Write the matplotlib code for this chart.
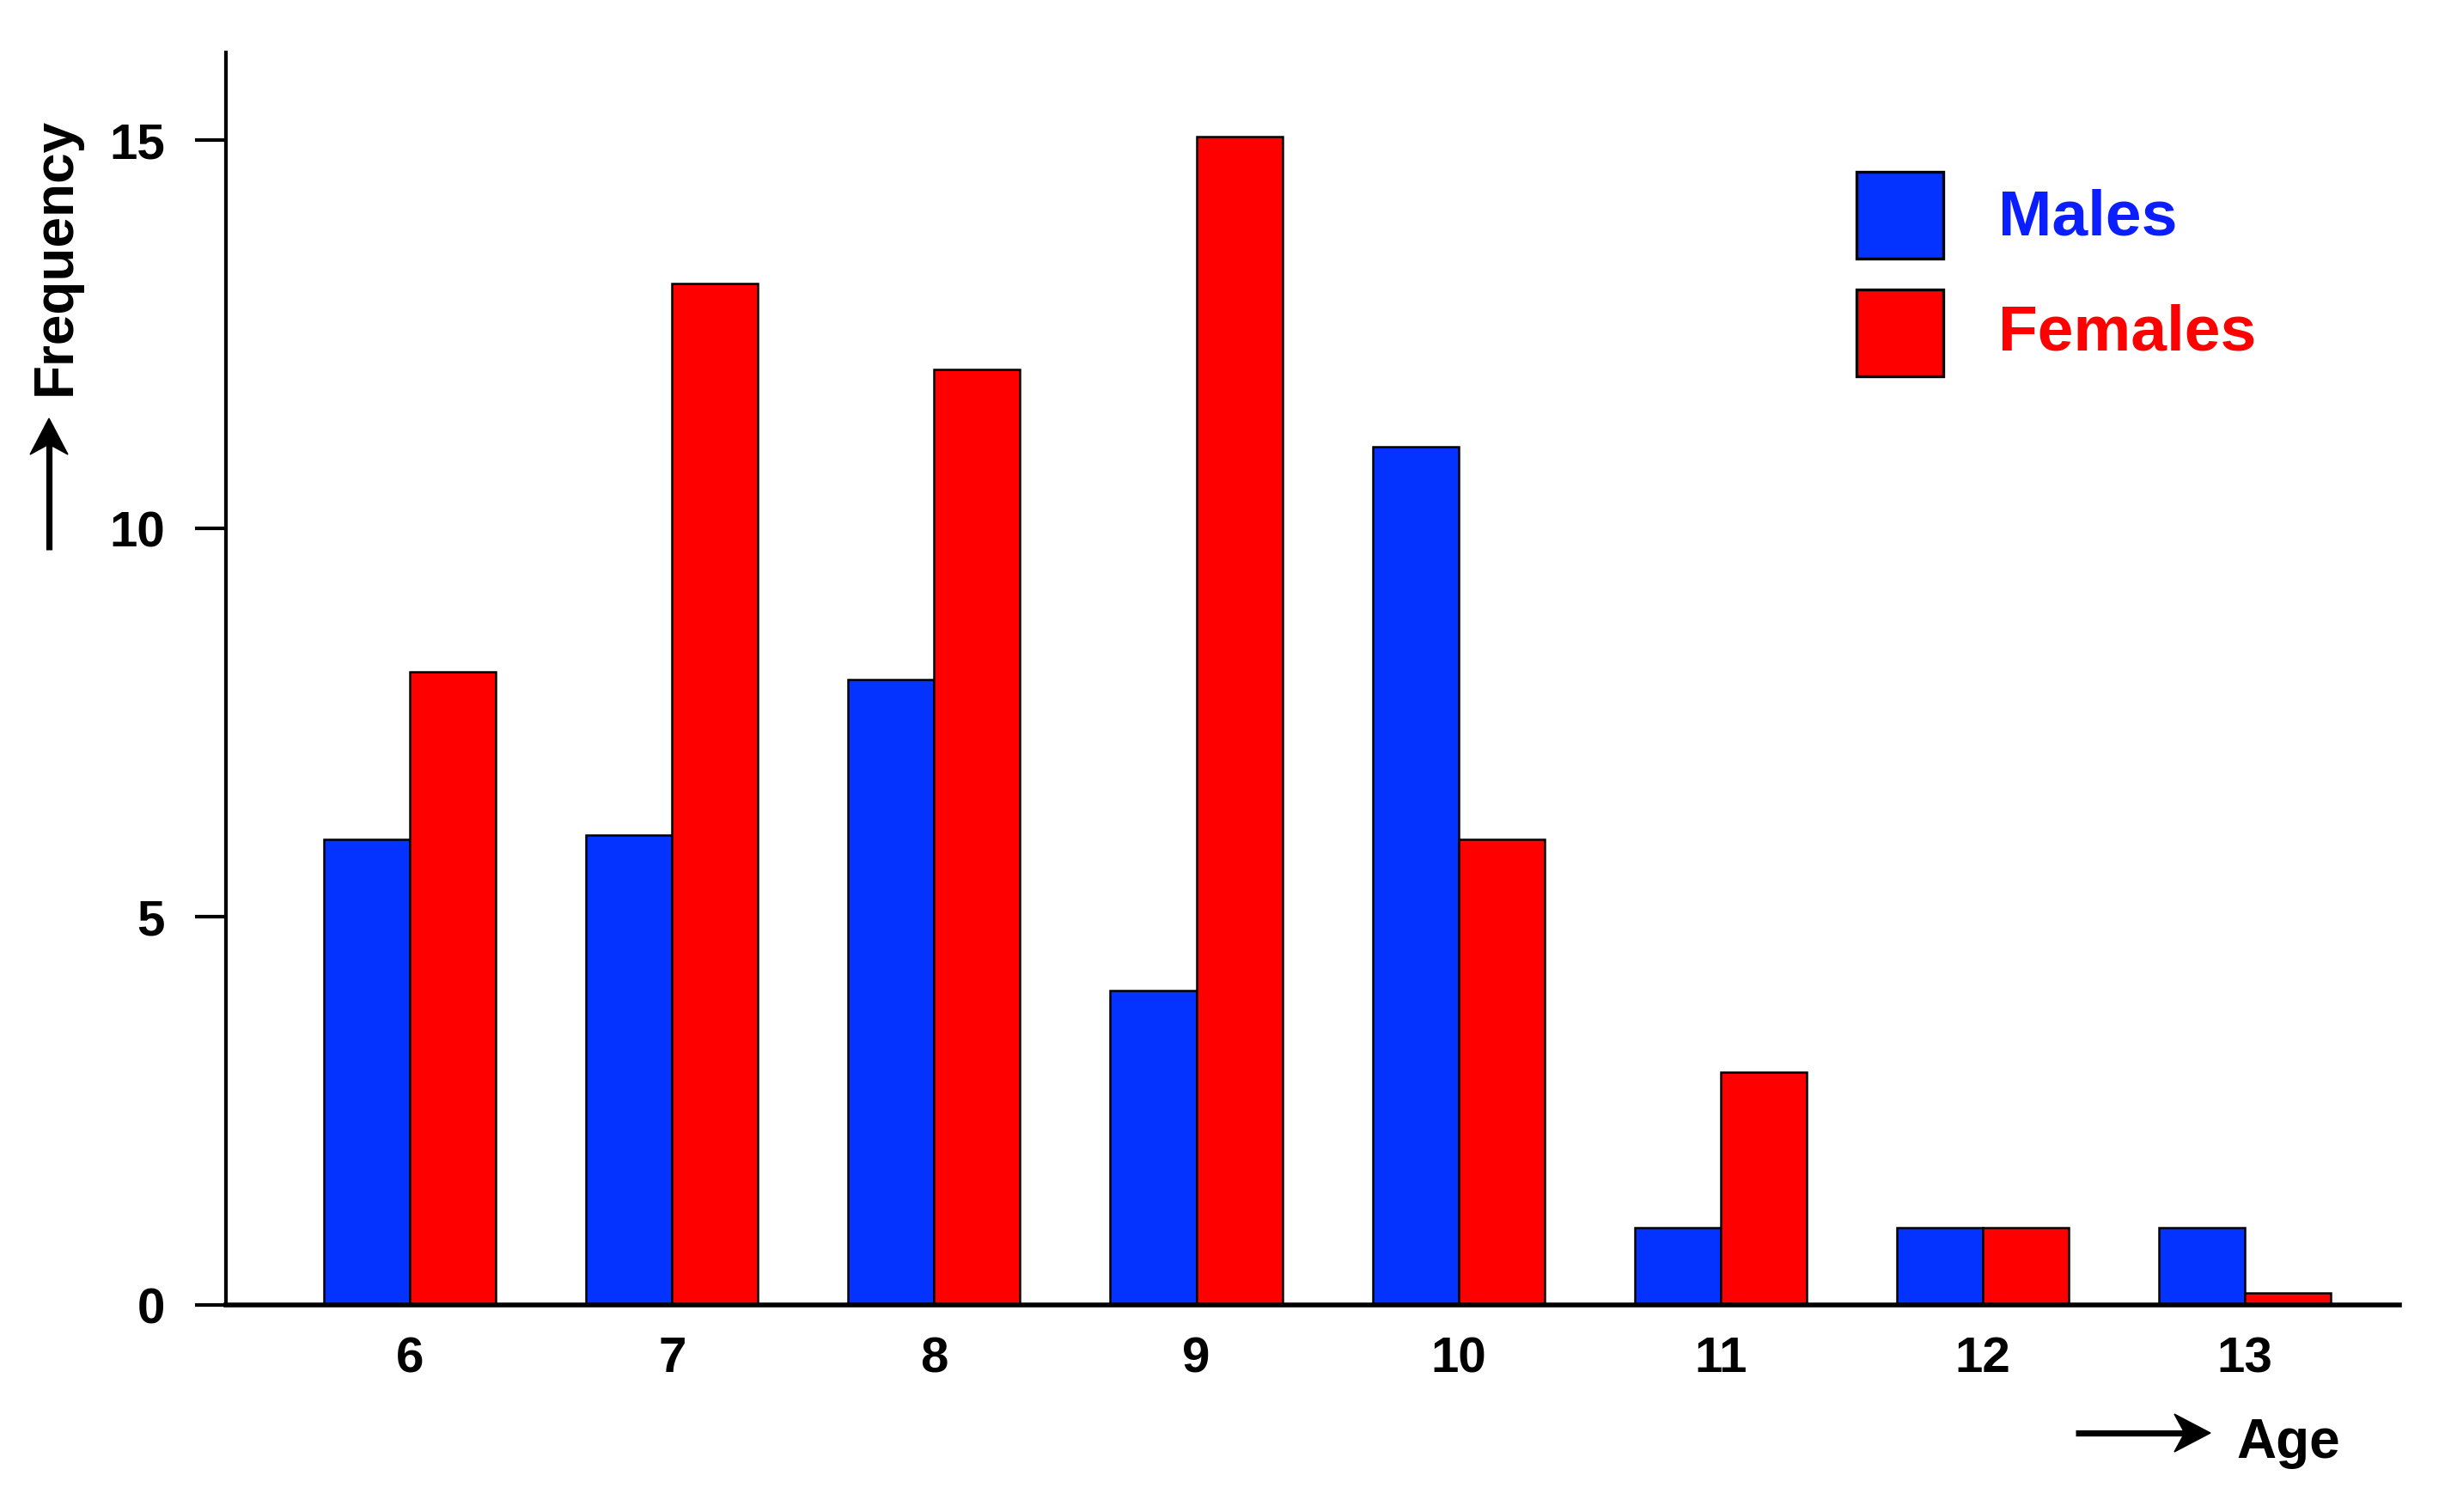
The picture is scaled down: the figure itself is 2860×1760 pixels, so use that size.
import numpy as np
import matplotlib
matplotlib.use('Agg')
import matplotlib.pyplot as plt
from matplotlib.patches import Rectangle, Polygon
from matplotlib.lines import Line2D

# Veriler
ages = [6, 7, 8, 9, 10, 11, 12, 13]
males = [6.0, 6.05, 8.05, 4.05, 11.05, 1.0, 1.0, 1.0]
females = [8.15, 13.15, 12.05, 15.05, 6.0, 3.0, 1.0, 0.15]
y_ticks = [0, 5, 10, 15]

blue = '#0433FF'
red = '#FF0000'
fnt = ['Liberation Sans', 'DejaVu Sans']
plt.rcParams['font.family'] = fnt

W, H, DPI = 2860, 1760, 200
fig = plt.figure(figsize=(W / DPI, H / DPI), dpi=DPI)
ax = fig.add_axes([263 / W, 1 - 1519 / H, (2793 - 263) / W, (1519 - 61) / H])

x = np.array(ages, dtype=float)
w = 0.328
ax.bar(x - w / 2, males, width=w, color=blue, edgecolor='black', linewidth=0.9, zorder=2)
ax.bar(x + w / 2, females, width=w, color=red, edgecolor='black', linewidth=0.9, zorder=2)

ax.set_xlim(5.298, 13.59)
ax.set_ylim(0, 16.13)

# Eksenler
for s in ['top', 'right']:
    ax.spines[s].set_visible(False)
ax.spines['left'].set_linewidth(1.5)
ax.spines['bottom'].set_linewidth(2.0)
ax.spines['bottom'].set_zorder(3)

ax.set_yticks(y_ticks)
ax.set_yticklabels([str(v) for v in y_ticks])
ax.set_xticks(ages)
ax.set_xticklabels([str(a) for a in ages])
ax.tick_params(axis='y', direction='out', length=13, width=1.5, pad=12.6, labelsize=21)
ax.tick_params(axis='x', length=0, pad=13, labelsize=21)
for lab in ax.get_xticklabels() + ax.get_yticklabels():
    lab.set_fontweight('bold')


# Ok çizimi (piksel koordinatlarında, içbükey uçlu)
def draw_arrow(x0, y0, x1, y1, hl=42, hw=22, notch=12):
    d = np.array([x1 - x0, y1 - y0], dtype=float)
    d /= np.hypot(*d)
    n = np.array([-d[1], d[0]])
    tip = np.array([x1, y1], dtype=float)
    back = tip - d * hl
    pts = [tip, back + n * hw, tip - d * (hl - notch), back - n * hw]
    end = tip - d * (hl - notch)
    fig.add_artist(Line2D([x0 / W, end[0] / W], [1 - y0 / H, 1 - end[1] / H],
                          transform=fig.transFigure, color='black', linewidth=2.6,
                          solid_capstyle='butt'))
    fig.add_artist(Polygon([(p[0] / W, 1 - p[1] / H) for p in pts], closed=True,
                           transform=fig.transFigure, facecolor='black', edgecolor='black',
                           linewidth=0.5))


# Eksen başlıkları ve oklar
fig.text(65 / W, 1 - 298 / H, 'Frequency', rotation=90, ha='center', va='center',
         fontsize=23, fontweight='bold')
draw_arrow(57, 640, 57, 487)
fig.text(2603 / W, 1 - 1697 / H, 'Age', ha='left', va='baseline', fontsize=23, fontweight='bold')
draw_arrow(2416, 1668, 2573, 1668)

# Lejant
for (y0, col, txt, base) in [(200, blue, 'Males', 274), (337, red, 'Females', 408)]:
    fig.add_artist(Rectangle((2161 / W, 1 - (y0 + 101) / H), 101 / W, 101 / H,
                             transform=fig.transFigure, facecolor=col, edgecolor='black', linewidth=1.2))
    fig.text(2326 / W, 1 - base / H, txt, ha='left', va='baseline', fontsize=27,
             fontweight='bold', color='#0a1eff' if txt == 'Males' else red)

fig.savefig('out.png', dpi=DPI, facecolor='white')
